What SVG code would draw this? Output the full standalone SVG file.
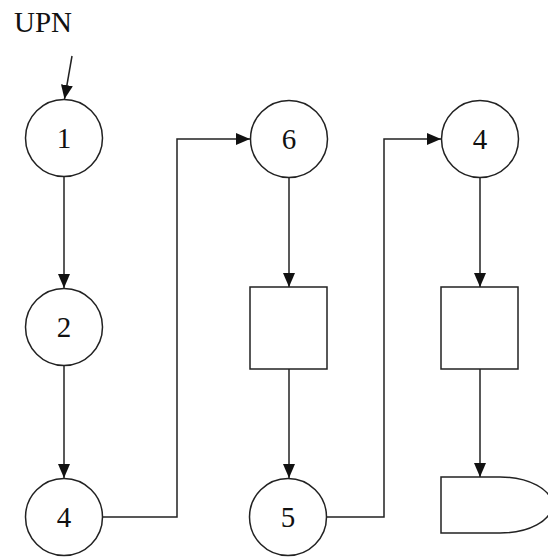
<svg xmlns="http://www.w3.org/2000/svg" width="548" height="558" viewBox="0 0 548 558">
<style>
.n{fill:#fff;stroke:#222;stroke-width:1.5}
.e{fill:none;stroke:#222;stroke-width:1.5}
.t{font-family:"Liberation Serif","Times New Roman",serif;font-size:29px;fill:#111;text-anchor:middle}
</style>
<defs>
<marker id="a" viewBox="0 0 14 12" refX="14" refY="6" markerWidth="14" markerHeight="12" markerUnits="userSpaceOnUse" orient="auto">
<path d="M0,0 L14,6 L0,12 Z" fill="#111"/>
</marker>
</defs>
<rect width="548" height="558" fill="#fff"/>
<text class="t" x="43" y="32">UPN</text>
<g id="connectors">
<line class="e" x1="72" y1="56" x2="64.5" y2="99" marker-end="url(#a)"/>
<line class="e" x1="64" y1="177" x2="64" y2="288" marker-end="url(#a)"/>
<line class="e" x1="64" y1="366" x2="64" y2="478" marker-end="url(#a)"/>
<polyline class="e" points="103,517 177,517 177,139 250,139" marker-end="url(#a)"/>
<line class="e" x1="289" y1="178" x2="289" y2="287" marker-end="url(#a)"/>
<line class="e" x1="289" y1="369" x2="289" y2="478" marker-end="url(#a)"/>
<polyline class="e" points="327,517 384,517 384,139 441,139" marker-end="url(#a)"/>
<line class="e" x1="480" y1="178" x2="480" y2="287" marker-end="url(#a)"/>
<line class="e" x1="480" y1="369" x2="480" y2="477" marker-end="url(#a)"/>
</g>
<g id="n1"><circle class="n" cx="64" cy="138" r="38.5"/><text class="t" x="64" y="148">1</text></g>
<g id="n2"><circle class="n" cx="64" cy="327" r="38.5"/><text class="t" x="64" y="337">2</text></g>
<g id="n4a"><circle class="n" cx="64" cy="517" r="38.5"/><text class="t" x="64" y="527">4</text></g>
<g id="n6"><circle class="n" cx="289" cy="139" r="38.5"/><text class="t" x="289" y="149">6</text></g>
<g id="box1"><rect class="n" x="250" y="287" width="77" height="82"/></g>
<g id="n5"><circle class="n" cx="288" cy="517" r="38.5"/><text class="t" x="288" y="527">5</text></g>
<g id="n4b"><circle class="n" cx="480" cy="139" r="38.5"/><text class="t" x="480" y="149">4</text></g>
<g id="box2"><rect class="n" x="441" y="287" width="77" height="82"/></g>
<g id="delay"><path class="n" d="M441,477 H500 A52,28 0 0 1 500,533 H441 Z"/></g>
</svg>
